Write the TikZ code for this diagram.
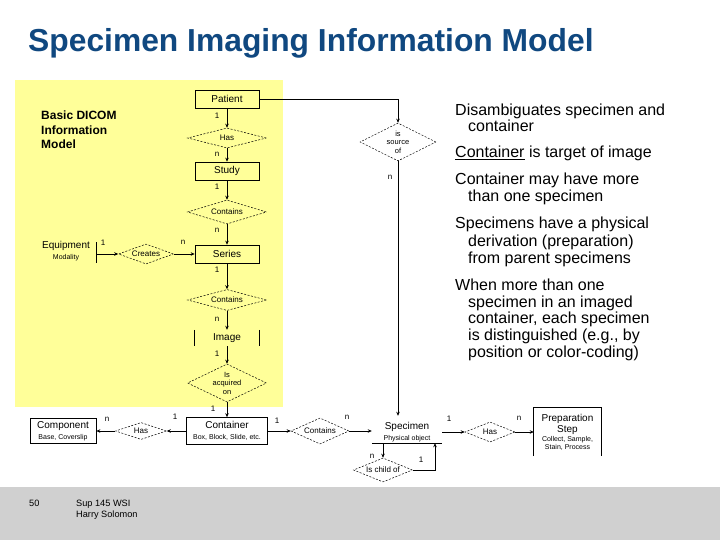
\documentclass[tikz,border=0pt]{standalone}
\usepackage{fontspec}
\setmainfont{Liberation Sans}
\usetikzlibrary{shapes.geometric,arrows.meta,calc}
\definecolor{titleblue}{RGB}{16,72,128}
\definecolor{slideyellow}{RGB}{255,255,153}
\definecolor{footergray}{RGB}{208,208,208}
\newcommand{\myfs}[2]{\fontsize{#1}{#2}\selectfont}
\begin{document}
\begin{tikzpicture}[x=1pt,y=-1pt,
  entity/.style={draw, line width=0.7pt, minimum width=64pt, minimum height=18pt, inner sep=0pt, font=\myfs{10}{11}, align=center},
  rel/.style={diamond, draw, dash pattern=on 2pt off 1.5pt, line width=0.5pt, inner sep=0pt, font=\myfs{8}{9}, align=center},
  card/.style={font=\myfs{8}{9}, inner sep=0pt},
  conn/.style={line width=0.7pt, -{Stealth[length=4pt,width=3.5pt]}},
  plainline/.style={line width=0.7pt},
  note/.style={anchor=base west, inner sep=0pt, font=\myfs{16}{17}},
  foot/.style={anchor=base west, inner sep=0pt, font=\myfs{9.2}{11}}
]
\useasboundingbox (0,0) rectangle (720,540);
\fill[white] (0,0) rectangle (720,540);
\fill[slideyellow] (15,80) rectangle (283,407);
\fill[footergray] (0,487) rectangle (720,540);

\node[anchor=base west, inner sep=0pt, font=\bfseries\myfs{31.8}{34}, text=titleblue] (title) at (28,52) {Specimen Imaging Information Model};

\node[anchor=north west, inner sep=0pt, font=\bfseries\myfs{12}{14.5}, align=left] (basic) at (41,111) {Basic DICOM\\Information\\Model};

% vertical DICOM chain
\node[entity] (patient) at (227,99) {Patient};
\node[rel, shape aspect=4, minimum width=79pt, minimum height=20pt] (has1) at (227,138) {Has};
\node[entity] (study) at (227,171) {Study};
\node[rel, shape aspect=3.3, minimum width=79pt, minimum height=24pt] (cont1) at (227,212) {Contains};
\node[entity] (series) at (227,254) {Series};
\node[rel, shape aspect=3.7, minimum width=79pt, minimum height=21pt] (cont2) at (227,300) {Contains};
\node[font=\myfs{10}{11}, minimum width=64pt, minimum height=16pt, inner sep=0pt] (image) at (227,338) {Image};
\draw[plainline] (image.north west) -- (image.south west) (image.north east) -- (image.south east);
\node[rel, shape aspect=2, font=\myfs{7.5}{8.5}, minimum width=79pt, minimum height=38pt] (acq) at (227,383) {Is\\acquired\\on};
\node[entity, minimum width=81pt, minimum height=27pt] (container) at (227,431) {Container\\{\myfs{7}{8}Box, Block, Slide, etc.}};

\draw[conn] (patient) -- (has1);
\draw[conn] (has1) -- (study);
\draw[conn] (study) -- (cont1);
\draw[conn] (cont1) -- (series);
\draw[conn] (series) -- (cont2);
\draw[conn] (cont2) -- (image);
\draw[conn] (image) -- (acq);
\draw[conn] (acq) -- (container);

% equipment
\node[font=\myfs{10}{11}, align=center, inner sep=0pt] (equip) at (66,251) {Equipment\\{\myfs{7}{8}Modality}};
\coordinate (eqtop) at (96,242);
\coordinate (eqbot) at (96,263);
\coordinate (eqbar) at (96,254);
\draw[plainline] (eqtop) -- (eqbot);
\node[rel, shape aspect=2.75, minimum width=55pt, minimum height=20pt] (creates) at (146,254) {Creates};
\draw[conn] (eqbar) -- (creates.west);
\draw[conn] (creates.east) -- (series.west);

% component
\node[entity, minimum width=66pt, minimum height=25pt] (component) at (63,431) {Component\\{\myfs{7}{8}Base, Coverslip}};
\node[rel, shape aspect=3, minimum width=51pt, minimum height=17pt] (has2) at (141,431) {Has};
\draw[conn] (container.west) -- (has2.east);
\draw[conn] (has2.west) -- (component.east);

% specimen
\node[rel, shape aspect=2.2, minimum width=58pt, minimum height=26pt] (cont3) at (320,431) {Contains};
\node[minimum width=70pt, minimum height=22pt, inner sep=0pt, font=\myfs{10}{11}, align=center] (specimen) at (407,432) {Specimen\\{\myfs{7}{8}Physical object}};
\draw[plainline] (specimen.south west) -- (specimen.south east);
\draw[conn] (container.east) -- (cont3.west);
\draw[conn] (cont3.east) -- (cont3.east -| specimen.west);

\node[rel, shape aspect=2, font=\myfs{7.5}{8.5}, minimum width=76pt, minimum height=38pt] (source) at (398,142) {is\\source\\of};
\draw[conn] (patient.east) -- (patient.east -| source.north) -- (source.north);
\draw[conn, shorten >=5pt] (source.south) -- (source.south |- specimen.north);

\node[rel, shape aspect=2.5, minimum width=59pt, minimum height=24pt] (child) at (383,470) {Is child of};
\coordinate (childturn) at (435,470);
\draw[conn] (child.north |- specimen.south) -- (child.north);
\draw[conn] (child.east) -- (childturn) -- (childturn |- specimen.south);

\node[rel, shape aspect=2.5, minimum width=50pt, minimum height=20pt] (has3) at (490,432) {Has};
\node[minimum width=67pt, minimum height=48pt, inner sep=0pt, align=center, font=\myfs{10}{11}] (prep) at (567.5,432) {Preparation\\Step\\[-2pt]{\myfs{7}{8}Collect, Sample,}\\[-3pt]{\myfs{7}{8}Stain, Process}};
\draw[plainline] (prep.south west) -- (prep.north west) -- (prep.north east) -- (prep.south east);
\draw[conn] (specimen.east) -- (has3.west);
\draw[conn] (has3.east) -- (prep.west);

% cardinalities
\node[card] (k1) at (217,116) {1};
\node[card] (k2) at (217,154) {n};
\node[card] (k3) at (217,187) {1};
\node[card] (k4) at (217,230) {n};
\node[card] (k5) at (217,270) {1};
\node[card] (k6) at (217,319) {n};
\node[card] (k7) at (217,354) {1};
\node[card] (k8) at (213,409) {1};
\node[card] (k9) at (103,243) {1};
\node[card] (k10) at (183,242) {n};
\node[card] (k11) at (107,419) {n};
\node[card] (k12) at (175,417) {1};
\node[card] (k13) at (277,421) {1};
\node[card] (k14) at (347,417) {n};
\node[card] (k15) at (390,177) {n};
\node[card] (k16) at (372,456) {n};
\node[card] (k17) at (421,460) {1};
\node[card] (k18) at (449,419) {1};
\node[card] (k19) at (519,418) {n};

% notes
\node[note] (t1) at (455,116) {Disambiguates specimen and};
\node[note] (t2) at (468,132) {container};
\node[note] (t3) at (455,158) {\underline{Container} is target of image};
\node[note] (t4) at (455,185) {Container may have more};
\node[note] (t5) at (468,202) {than one specimen};
\node[note] (t6) at (455,229) {Specimens have a physical};
\node[note] (t7) at (468,246) {derivation (preparation)};
\node[note] (t8) at (468,263) {from parent specimens};
\node[note] (t9) at (455,290) {When more than one};
\node[note] (t10) at (468,307) {specimen in an imaged};
\node[note] (t11) at (468,323) {container, each specimen};
\node[note] (t12) at (468,340) {is distinguished (e.g., by};
\node[note] (t13) at (468,357) {position or color-coding)};

% footer
\node[foot] (pagenum) at (29,506) {50};
\node[foot] (f1) at (76,506) {Sup 145 WSI};
\node[foot] (f2) at (76,517) {Harry Solomon};
\end{tikzpicture}
\end{document}
